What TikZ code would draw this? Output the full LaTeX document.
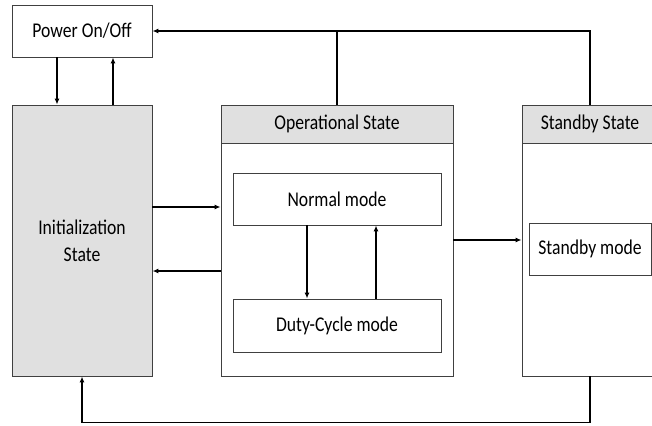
\documentclass[tikz,border=0pt]{standalone}
\usepackage{fontspec}
\setmainfont{Carlito}[FakeStretch=0.84]
\usetikzlibrary{arrows.meta}
\definecolor{boxgray}{HTML}{E0E0E0}
\definecolor{edge}{HTML}{404040}
\tikzset{
  blk/.style={draw=edge, line width=0.9pt, rectangle, inner sep=0pt, align=center,
              font=\fontsize{21}{27}\selectfont},
  shaded/.style={blk, fill=boxgray},
  arr/.style={line width=1.4pt, -{Latex[length=6pt,width=5pt]}},
  conn/.style={line width=1.4pt},
}
\begin{document}
\begin{tikzpicture}[x=1pt,y=-1pt]
\clip (0,0) rectangle (652,425);
\fill[white] (0,0) rectangle (652,425);
% boxes
\node[blk, minimum width=140, minimum height=52] (power) at (82,31) {Power On/Off};
\node[shaded, minimum width=140, minimum height=271] (init) at (82,240.5) {Initialization\\State};
\node[blk, minimum width=232, minimum height=271] (op) at (337,240.5) {};
\node[shaded, minimum width=232, minimum height=38] (ophead) at (337,124) {Operational State};
\node[blk, minimum width=208, minimum height=52] (normal) at (337,199) {Normal mode};
\node[blk, minimum width=208, minimum height=53] (duty) at (337,325.5) {Duty-Cycle mode};
\node[blk, minimum width=136, minimum height=271] (sb) at (590,240.5) {};
\node[shaded, minimum width=136, minimum height=38] (sbhead) at (590,124) {Standby State};
\node[blk, minimum width=122, minimum height=52] (sbmode) at (590,249) {Standby mode};
% level coordinates
\coordinate (ya) at (0,207);
\coordinate (yb) at (0,271);
\coordinate (yc) at (0,240);
\coordinate (xa) at (57,0);
\coordinate (xb) at (113,0);
\coordinate (xc) at (307,0);
\coordinate (xd) at (376,0);
% power <-> init
\draw[arr] (power.south -| xa) -- (init.north -| xa);
\draw[arr] (init.north -| xb) -- (power.south -| xb);
% init <-> op
\draw[arr] (init.east |- ya) -- (op.west |- ya);
\draw[arr] (op.west |- yb) -- (init.east |- yb);
% normal <-> duty
\draw[arr] (normal.south -| xc) -- (duty.north -| xc);
\draw[arr] (duty.north -| xd) -- (normal.south -| xd);
% op -> standby
\draw[arr] (op.east |- yc) -- (sb.west |- yc);
% top feedback
\draw[arr] (sbhead.north) |- (power.east);
\draw[conn] (ophead.north) -- (ophead.north |- power.east);
% bottom feedback
\draw[arr] (sb.south) -- ++(0,46) -| (init.south);
\end{tikzpicture}
\end{document}
